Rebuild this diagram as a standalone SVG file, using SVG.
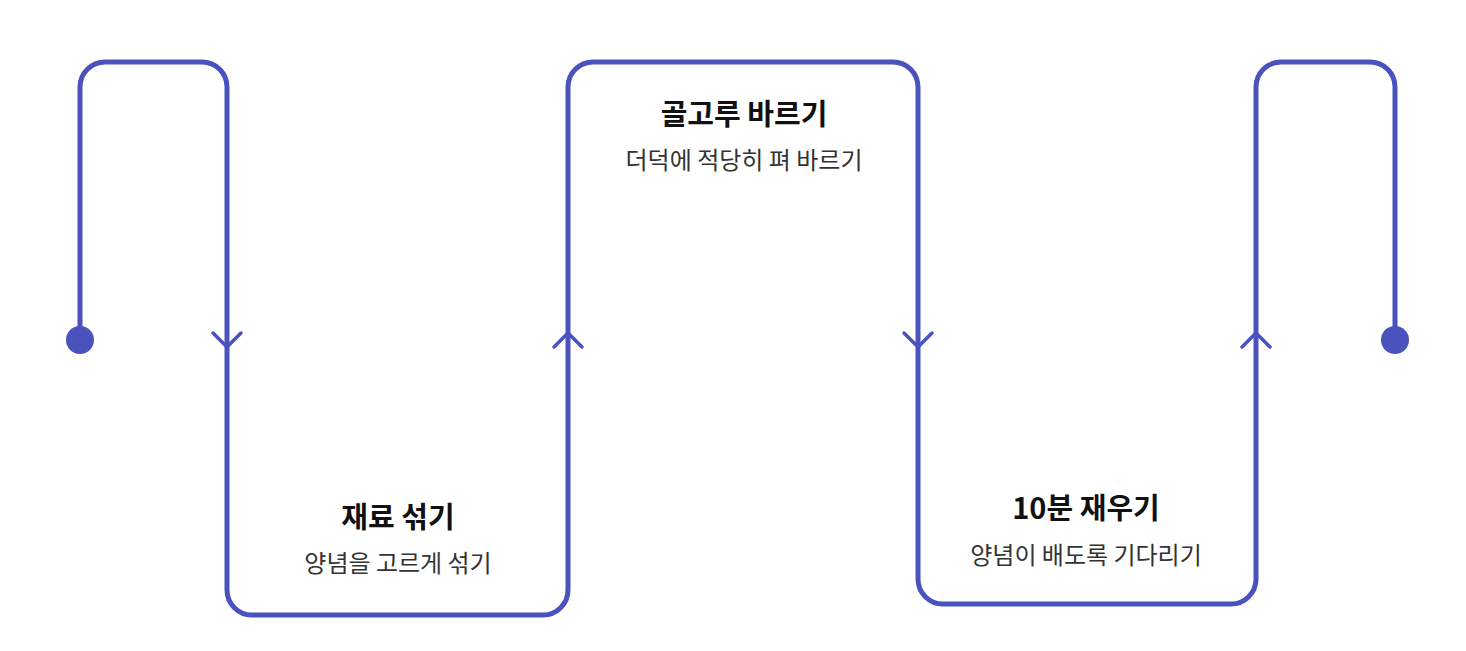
<svg xmlns="http://www.w3.org/2000/svg" width="1466" height="651" viewBox="0 0 1466 651">
  <style>
    .line { fill: none; stroke: #4a52be; stroke-width: 5; stroke-linejoin: round; stroke-linecap: round; }
    .chev { fill: none; stroke: #4a52be; stroke-width: 3.5; stroke-linejoin: round; stroke-linecap: round; }
    .dot { fill: #4a52be; }
    .title { font-family: "Noto Sans CJK KR", "Noto Sans", sans-serif; font-weight: 700; font-size: 29px; fill: #111; text-anchor: middle; }
    .sub { font-family: "Noto Sans CJK KR", "Noto Sans", sans-serif; font-weight: 400; font-size: 24px; fill: #333; text-anchor: middle; }
  </style>
  <rect width="1466" height="651" fill="#ffffff"/>
  <g id="connectors">
    <path class="line" d="M80,340 V87 A25,25 0 0 1 105,62 H202 A25,25 0 0 1 227,87 V590 A25,25 0 0 0 252,615 H543 A25,25 0 0 0 568,590 V87 A25,25 0 0 1 593,62 H893 A25,25 0 0 1 918,87 V579 A25,25 0 0 0 943,604 H1231 A25,25 0 0 0 1256,579 V87 A25,25 0 0 1 1281,62 H1370 A25,25 0 0 1 1395,87 V340"/>
    <path class="chev" d="M213,333 L227,347 L241,333"/>
    <path class="chev" d="M554,347 L568,333 L582,347"/>
    <path class="chev" d="M904,333 L918,347 L932,333"/>
    <path class="chev" d="M1242,347 L1256,333 L1270,347"/>
  </g>
  <g id="start">
    <circle class="dot" cx="80" cy="340" r="14"/>
  </g>
  <g id="step1">
    <text class="title" x="398" y="528">재료 섞기</text>
    <text class="sub" x="398" y="572">양념을 고르게 섞기</text>
  </g>
  <g id="step2">
    <text class="title" x="744" y="125">골고루 바르기</text>
    <text class="sub" x="744" y="169">더덕에 적당히 펴 바르기</text>
  </g>
  <g id="step3">
    <text class="title" x="1086" y="519">10분 재우기</text>
    <text class="sub" x="1086" y="564">양념이 배도록 기다리기</text>
  </g>
  <g id="end">
    <circle class="dot" cx="1395" cy="340" r="14"/>
  </g>
</svg>
